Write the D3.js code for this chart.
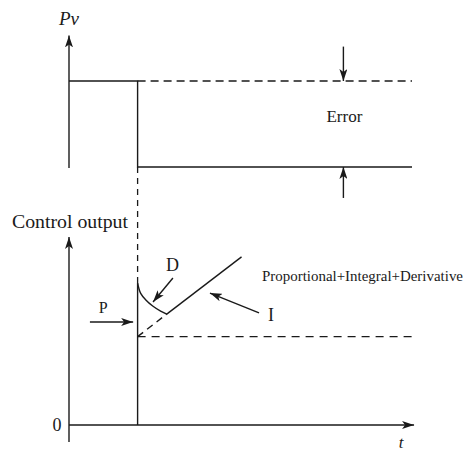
<!DOCTYPE html>
<html>
<head>
<meta charset="utf-8">
<script src="https://cdn.jsdelivr.net/npm/d3@7"></script>
<style>
  body { margin: 0; background: #fff; }
  text { font-family: "Liberation Serif", "DejaVu Serif", serif; fill: #1a1a1a; }
</style>
</head>
<body>
<div id="chart"></div>
<script>
// time axis shared by both panels
const tDomain = [0, 10]
const stepTime = 2

// top panel: process value (1 = setpoint, 0 = after the step)
const pvTimes = [0, 2, 2, 10]
const pvValues = [1, 1, 0, 0]
const setpointTimes = [2, 10]
const setpointValues = [1, 1]

// bottom panel: control output
const stepTimes = [2, 2]
const stepValues = [0, 7.55]
const dCurveTimes = [2, 2.09, 2.24, 2.44, 2.67, 2.85]
const dCurveValues = [7.55, 7.0, 6.65, 6.33, 6.06, 5.9]
const iLineTimes = [2.85, 5.03]
const iLineValues = [5.9, 8.94]
const iDashTimes = [2, 2.85]
const iDashValues = [4.7, 5.9]
const pLevelTimes = [2, 10]
const pLevelValues = [4.7, 4.7]

// annotation arrows [t0, v0, t1, v1]
const errorArrows = [[8, 1.4, 8, 1], [8, -0.36, 8, 0]]
const outArrows = [
  [3.03, 7.82, 2.45, 6.54],   // D
  [0.61, 5.48, 1.87, 5.48],   // P
  [5.54, 5.96, 4.11, 7.02]    // I
]

const width = 464, height = 452
const ink = "#1a1a1a"

const svg = d3.select("#chart").append("svg")
  .attr("width", width)
  .attr("height", height)

// arrow heads
const defs = svg.append("defs")
defs.append("marker")
  .attr("id", "head")
  .attr("viewBox", "0 0 12 8")
  .attr("refX", 12).attr("refY", 4)
  .attr("markerWidth", 12).attr("markerHeight", 8)
  .attr("markerUnits", "userSpaceOnUse")
  .attr("orient", "auto")
  .append("path").attr("d", "M0,0 L12,4 L0,8 L3,4 Z").attr("fill", ink)

// scales
const x = d3.scaleLinear(tDomain, [69, 412])
const yPv = d3.scaleLinear([0, 1], [167, 81])
const yOut = d3.scaleLinear([0, 10], [425, 237])

const line = (ys) => d3.line().x(d => x(d[0])).y(d => ys(d[1]))
const zip = (a, b) => a.map((v, i) => [v, b[i]])

const drawLine = (pts, ys, dash, curve) => {
  const gen = line(ys)
  if (curve) gen.curve(curve)
  svg.append("path")
    .attr("d", gen(pts))
    .attr("fill", "none")
    .attr("stroke", ink)
    .attr("stroke-width", 1.4)
    .attr("stroke-dasharray", dash || null)
}

const drawArrow = (x0, y0, x1, y1, w) => {
  svg.append("line")
    .attr("x1", x0).attr("y1", y0).attr("x2", x1).attr("y2", y1)
    .attr("stroke", ink)
    .attr("stroke-width", w || 1.4)
    .attr("marker-end", "url(#head)")
}

// axes
drawArrow(x(0), yPv(0) + 1, x(0), yPv(1.53))
drawArrow(x(0), yOut(-0.9), x(0), yOut(10))
drawArrow(x(0), yOut(0), x(10.06), yOut(0))

// top panel
drawLine(zip(pvTimes, pvValues), yPv)
drawLine(zip(setpointTimes, setpointValues), yPv, "8,5")
errorArrows.forEach(a => drawArrow(x(a[0]), yPv(a[1]), x(a[2]), yPv(a[3])))

// link between the panels
svg.append("line")
  .attr("x1", x(stepTime)).attr("y1", yPv(0))
  .attr("x2", x(stepTime)).attr("y2", yOut(stepValues[1]))
  .attr("stroke", ink).attr("stroke-width", 1.3)
  .attr("stroke-dasharray", "6,5")

// bottom panel
drawLine(zip(stepTimes, stepValues), yOut)
drawLine(zip(dCurveTimes, dCurveValues), yOut, null, d3.curveCatmullRom)
drawLine(zip(iLineTimes, iLineValues), yOut)
drawLine(zip(iDashTimes, iDashValues), yOut, "7,5")
drawLine(zip(pLevelTimes, pLevelValues), yOut, "8,6")
outArrows.forEach(a => drawArrow(x(a[0]), yOut(a[1]), x(a[2]), yOut(a[3])))

// labels
const label = (txt, px, py, size, opts) => {
  const t = svg.append("text")
    .attr("x", px).attr("y", py)
    .attr("font-size", size)
    .text(txt)
  if (opts && opts.italic) t.attr("font-style", "italic")
  if (opts && opts.anchor) t.attr("text-anchor", opts.anchor)
  if (opts && opts.len) t.attr("textLength", opts.len).attr("lengthAdjust", "spacingAndGlyphs")
  return t
}

label("Pv", x(0), 25, 19, { italic: true, anchor: "middle" })
label("Error", x(8) + 1, yPv(0.523), 16, { anchor: "middle", len: 36 })
label("Control output", 12, 228, 19, { len: 116 })
label("D", x(3.02), yOut(8.19), 18, { anchor: "middle" })
label("P", x(1.0), yOut(5.96), 16, { anchor: "middle" })
label("I", x(5.89), yOut(5.53), 18, { anchor: "middle" })
label("Proportional+Integral+Derivative", 262, 281, 14, { len: 201 })
label("0", x(-0.35), 431, 18, { anchor: "middle" })
label("t", x(9.68), 448, 17, { italic: true, anchor: "middle" })
</script>
</body>
</html>
